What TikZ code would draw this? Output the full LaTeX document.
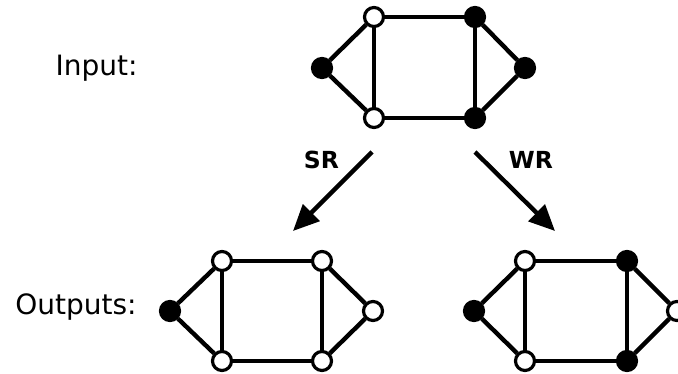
\documentclass[tikz,border=0pt]{standalone}
\usepackage{fontspec}
\setmainfont{DejaVu Sans}
\usetikzlibrary{arrows.meta}
\begin{document}
\begin{tikzpicture}[x=1pt,y=-1pt,
 vtx/.style={circle,draw=black,line width=3.2pt,minimum size=19pt,inner sep=0pt},
 blk/.style={vtx,fill=black},
 wht/.style={vtx,fill=white},
 edge/.style={line width=4.4pt},
 flow/.style={line width=4.4pt,-{Triangle[length=26pt,width=23pt]}},
 lbl/.style={font=\fontsize{28}{34}\selectfont,anchor=base,inner sep=0pt},
 tag/.style={font=\bfseries\fontsize{23.5}{28}\selectfont,anchor=base,inner sep=0pt}]
\useasboundingbox (0,0) rectangle (678,374);
% labels
\node[lbl] (lin) at (96.5,76) {Input:};
\node[lbl] (lout) at (76,315) {Outputs:};
\node[tag] (lsr) at (321.5,169) {SR};
\node[tag] (lwr) at (531,169) {WR};
% top graph
\node[blk] (a1) at (322,68) {};
\node[wht] (a2) at (374,17) {};
\node[wht] (a3) at (374,118) {};
\node[blk] (a4) at (475,17) {};
\node[blk] (a5) at (475,118) {};
\node[blk] (a6) at (525,68) {};
% bottom left graph
\node[blk] (b1) at (170,311) {};
\node[wht] (b2) at (222,261) {};
\node[wht] (b3) at (222,361) {};
\node[wht] (b4) at (322,261) {};
\node[wht] (b5) at (322,361) {};
\node[wht] (b6) at (373,311) {};
% bottom right graph
\node[blk] (c1) at (474,311) {};
\node[wht] (c2) at (525,261) {};
\node[wht] (c3) at (525,361) {};
\node[blk] (c4) at (627,261) {};
\node[blk] (c5) at (627,361) {};
\node[wht] (c6) at (677,311) {};
% edges
\foreach \g in {a,b,c}{
  \draw[edge] (\g1) -- (\g2);
  \draw[edge] (\g1) -- (\g3);
  \draw[edge] (\g2) -- (\g3);
  \draw[edge] (\g2) -- (\g4);
  \draw[edge] (\g3) -- (\g5);
  \draw[edge] (\g4) -- (\g5);
  \draw[edge] (\g4) -- (\g6);
  \draw[edge] (\g5) -- (\g6);
}
% arrows
\coordinate (s1) at (372,152);
\coordinate (s2) at (293,231);
\coordinate (w1) at (475,152);
\coordinate (w2) at (555,231);
\draw[flow] (s1) -- (s2);
\draw[flow] (w1) -- (w2);
\end{tikzpicture}
\end{document}
